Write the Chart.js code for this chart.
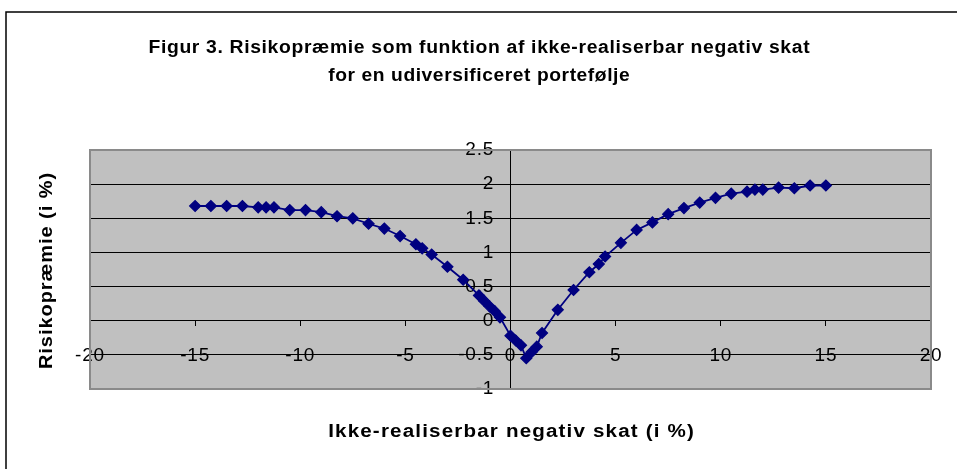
<!DOCTYPE html>
<html><head><meta charset="utf-8">
<script src="https://cdn.jsdelivr.net/npm/chart.js@4.4.0/dist/chart.umd.min.js"></script>
<style>html,body{margin:0;padding:0;background:#fff;overflow:hidden}#wrap{width:957px;height:469px;position:relative}</style>
</head><body><div id="wrap"><canvas id="c" width="957" height="469"></canvas></div>
<script>
const titleLines = ["Figur 3. Risikopræmie som funktion af ikke-realiserbar negativ skat", "for en udiversificeret portefølje"];
const xAxisTitle = "Ikke-realiserbar negativ skat (i %)";
const yAxisTitle = "Risikopræmie (i %)";
const xTicks = [-20, -15, -10, -5, 0, 5, 10, 15, 20];
const yTicks = [-1, -0.5, 0, 0.5, 1, 1.5, 2, 2.5];
const xValues = [-15, -14.25, -13.5, -12.75, -12, -11.625, -11.25, -10.5, -9.75, -9, -8.25, -7.5, -6.75, -6, -5.25, -4.5, -4.2, -3.75, -3, -2.25, -1.5, -1.25, -1, -0.75, -0.5, 0, 0.25, 0.5, 0.75, 1, 1.25, 1.5, 2.25, 3, 3.75, 4.2, 4.5, 5.25, 6, 6.75, 7.5, 8.25, 9, 9.75, 10.5, 11.25, 11.625, 12, 12.75, 13.5, 14.25, 15];
const yValues = [1.68, 1.68, 1.68, 1.68, 1.66, 1.66, 1.66, 1.62, 1.62, 1.59, 1.53, 1.50, 1.42, 1.35, 1.24, 1.12, 1.06, 0.97, 0.79, 0.60, 0.37, 0.29, 0.21, 0.14, 0.05, -0.22, -0.29, -0.36, -0.55, -0.46, -0.38, -0.18, 0.16, 0.45, 0.71, 0.83, 0.94, 1.14, 1.33, 1.44, 1.56, 1.65, 1.73, 1.80, 1.86, 1.89, 1.92, 1.92, 1.95, 1.94, 1.98, 1.98];

const FONT = '"Liberation Sans", Arial, sans-serif';
const HAS_LS = 'letterSpacing' in CanvasRenderingContext2D.prototype;

function wideText(ctx, text, x, y, target) {
  // stretch text horizontally (part scaling, part letter spacing) to the target width
  ctx.save();
  if (HAS_LS) ctx.letterSpacing = '0px';
  const n = [...text].length;
  const w = ctx.measureText(text).width;
  const ratio = target / w;
  const sx = HAS_LS ? 1 + (ratio - 1) * 0.5 : ratio;
  ctx.translate(x, y);
  ctx.scale(sx, 1);
  if (HAS_LS) {
    const ls = (target / sx - w) / n;
    ctx.letterSpacing = ls.toFixed(2) + 'px';
    ctx.fillText(text, ls / 2, 0);
  } else {
    ctx.fillText(text, 0, 0);
  }
  ctx.restore();
}

const decor = {
  id: 'decor',
  beforeDraw(chart) {
    const {ctx, chartArea: a} = chart;
    ctx.save();
    ctx.fillStyle = '#fff';
    ctx.fillRect(0, 0, chart.width, chart.height);
    ctx.strokeStyle = '#000';
    ctx.lineWidth = 1.5;
    ctx.strokeRect(6, 12, 1200, 1200);
    ctx.fillStyle = '#c0c0c0';
    ctx.fillRect(a.left, a.top, a.right - a.left, a.bottom - a.top);
    ctx.restore();
    if (HAS_LS) ctx.letterSpacing = '0.8px';
  },
  beforeDatasetsDraw(chart) {
    const {ctx, chartArea: a} = chart;
    ctx.save();
    ctx.strokeStyle = '#8a8a8a';
    ctx.lineWidth = 2;
    ctx.strokeRect(a.left, a.top, a.right - a.left, a.bottom - a.top);
    ctx.restore();
  },
  afterDraw(chart) {
    const {ctx} = chart;
    if (HAS_LS) ctx.letterSpacing = '0px';
    ctx.save();
    ctx.fillStyle = '#000';
    ctx.textAlign = 'center';
    ctx.textBaseline = 'middle';
    ctx.font = 'bold 18px ' + FONT;
    wideText(ctx, titleLines[0], 479, 48, 662);
    wideText(ctx, titleLines[1], 479, 76, 302);
    wideText(ctx, xAxisTitle, 511, 432, 367);
    ctx.translate(47, 271);
    ctx.rotate(-Math.PI / 2);
    wideText(ctx, yAxisTitle, 0, 0, 197);
    ctx.restore();
  }
};

new Chart(document.getElementById('c'), {
  type: 'scatter',
  data: {
    datasets: [{
      data: xValues.map((x, i) => ({x: x, y: yValues[i]})),
      showLine: true,
      borderColor: '#000080',
      backgroundColor: '#000080',
      borderWidth: 1.8,
      pointStyle: 'rectRot',
      pointRadius: 5.5,
      pointBorderWidth: 1.2,
      pointBorderColor: '#000080',
      pointBackgroundColor: '#000080',
      tension: 0
    }]
  },
  options: {
    responsive: false,
    animation: false,
    events: [],
    layout: {padding: {left: 90, top: 150, right: 26, bottom: 80}},
    plugins: {legend: {display: false}, tooltip: {enabled: false}},
    scales: {
      x: {
        type: 'linear', position: {y: 0}, min: -20, max: 20,
        afterBuildTicks: s => { s.ticks = xTicks.map(v => ({value: v})); },
        afterFit: s => { s.height = 0; s.paddingLeft = 0; s.paddingRight = 0; s.paddingTop = 0; s.paddingBottom = 0; },
        grid: {drawOnChartArea: false, drawTicks: true, tickLength: 5, color: '#000'},
        border: {display: true, color: '#000', width: 1},
        ticks: {color: '#000', font: {family: FONT, size: 19}, padding: 19, maxRotation: 0, autoSkip: false,
          callback: v => String(v)}
      },
      y: {
        type: 'linear', position: {x: 0}, min: -1, max: 2.5,
        afterBuildTicks: s => { s.ticks = yTicks.map(v => ({value: v})); },
        afterFit: s => { s.width = 0; s.paddingLeft = 0; s.paddingRight = 0; s.paddingTop = 0; s.paddingBottom = 0; },
        grid: {color: '#000', lineWidth: 1, drawTicks: true, tickLength: 4},
        border: {display: true, color: '#000', width: 1},
        ticks: {color: '#000', font: {family: FONT, size: 19}, padding: 14, autoSkip: false,
          callback: v => String(v) + '\u2002 '}
      }
    }
  },
  plugins: [decor]
});
</script></body></html>
